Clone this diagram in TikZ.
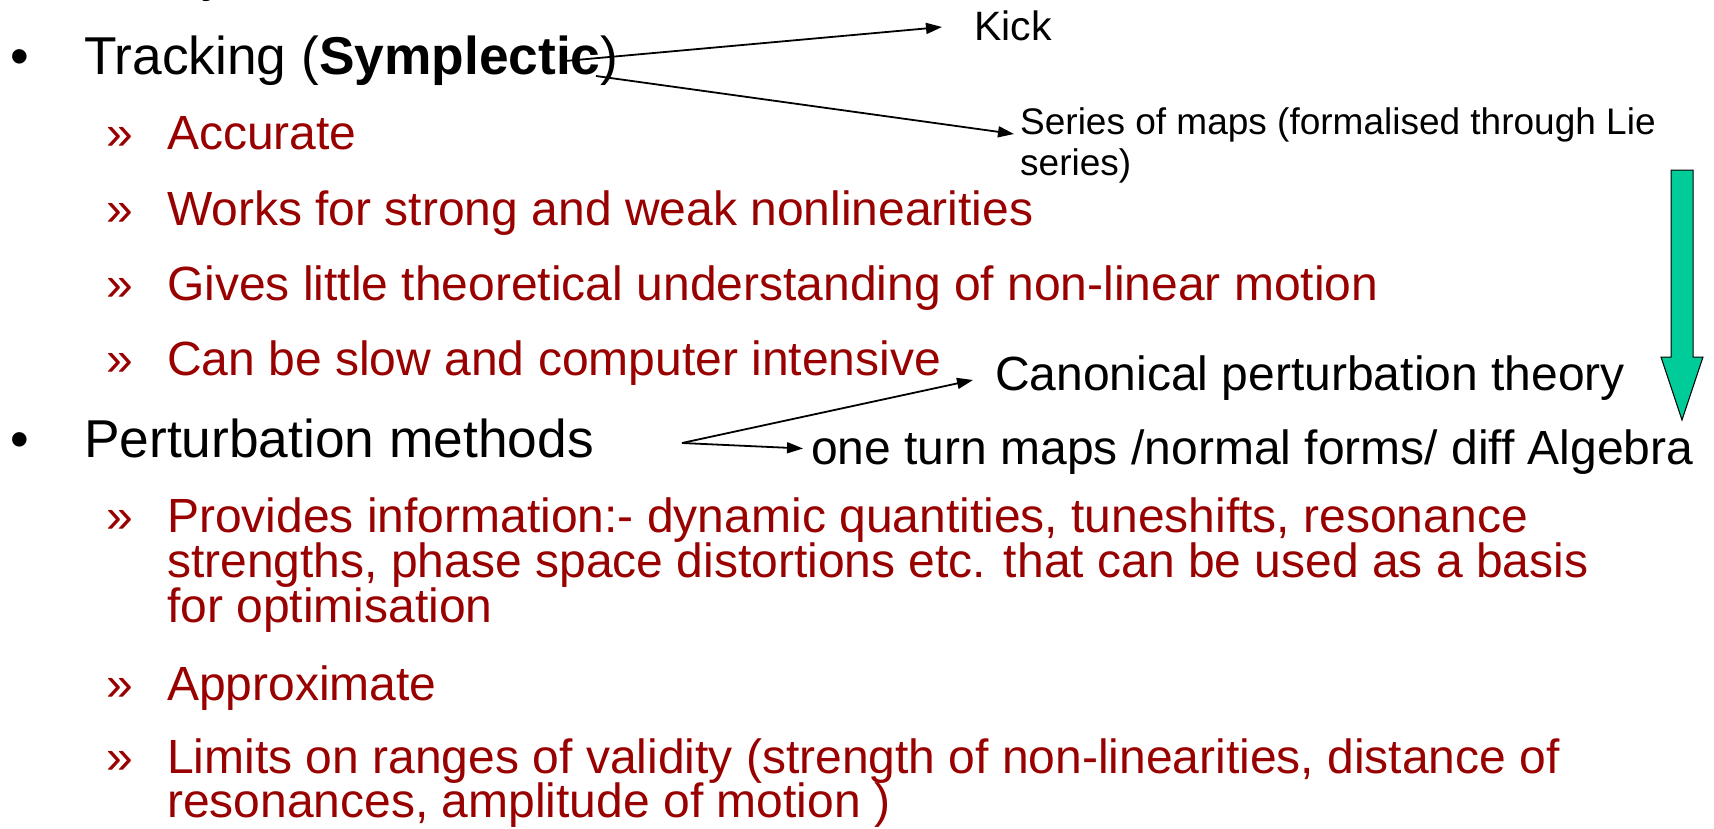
\documentclass[tikz,border=0pt]{standalone}
\usepackage{fontspec}
\setmainfont{Liberation Sans}
\usetikzlibrary{arrows.meta}
\definecolor{darkred}{RGB}{153,0,0}
\definecolor{tealgreen}{RGB}{0,204,153}
\begin{document}
\begin{tikzpicture}[x=1pt,y=-1pt,
  every node/.style={inner sep=0pt, anchor=base west},
  maintext/.style={font=\fontsize{53.3}{54}\selectfont, text=black},
  subtext/.style={font=\fontsize{48}{46}\selectfont, text=darkred},
  labelA/.style={font=\fontsize{41}{41}\selectfont, text=black},
  labelB/.style={font=\fontsize{37}{41}\selectfont, text=black},
  labelC/.style={font=\fontsize{48}{48}\selectfont, text=black},
  arr/.style={line width=1.8pt, -{Triangle[length=16pt,width=11pt]}},
  bigarrow/.style={line width=1pt, draw=black, fill=tealgreen},
]
\useasboundingbox (0,0) rectangle (1714,828);
\clip (0,0) rectangle (1714,828);

% cut-off line at the very top
\node[maintext] (topcut) at (201,-9.5) {y};

% Tracking
\node[maintext] (b1) at (10.5,74) {•};
\node[maintext] (track) at (84,74) {Tracking (\textbf{Symplectic})};
\node[subtext] (r1) at (106,149.5) {»};
\node[subtext] (t1) at (167,149.5) {Accurate};
\node[subtext] (r2) at (106,225.5) {»};
\node[subtext] (t2) at (167,225.5) {Works for strong and weak nonlinearities};
\node[subtext] (r3) at (106,300) {»};
\node[subtext] (t3) at (167,300) {Gives little theoretical understanding of non-linear motion};
\node[subtext] (r4) at (106,375) {»};
\node[subtext] (t4) at (167,375) {Can be slow and computer intensive};

% Perturbation methods
\node[maintext] (b2) at (10.5,457) {•};
\node[maintext] (pert) at (84,457) {Perturbation methods};
\node[subtext] (r5) at (106,532) {»};
\node[subtext] (t5a) at (167,532) {Provides information:- dynamic quantities, tuneshifts, resonance};
\node[subtext] (t5b) at (167,577) {strengths, phase space distortions etc. that can be used as a basis};
\node[subtext] (t5c) at (167,622) {for optimisation};
\node[subtext] (r6) at (106,700) {»};
\node[subtext] (t6) at (167,700) {Approximate};
\node[subtext] (r7) at (106,773) {»};
\node[subtext] (t7a) at (167,773) {Limits on ranges of validity (strength of non-linearities, distance of};
\node[subtext] (t7b) at (167,817) {resonances, amplitude of motion )};

% labels on the right
\node[labelA] (kick) at (974,40) {Kick};
\node[labelB] (ser1) at (1020,134) {Series of maps (formalised through Lie};
\node[labelB] (ser2) at (1020,175) {series)};
\node[labelC] (canon) at (995,390) {Canonical perturbation theory};
\node[labelC] (oneturn) at (811,464.5) {one turn maps /normal forms/ diff Algebra};

% connectors
\coordinate (sA) at (565,61);
\coordinate (sB) at (596,76);
\coordinate (pS) at (682,443);
\draw[arr] (sA) -- ([xshift=-32pt,yshift=13pt]kick.base west);
\draw[arr] (sB) -- ([xshift=-6pt]ser1.base west);
\draw[arr] (pS) -- ([xshift=-22pt,yshift=10pt]canon.base west);
\draw[arr] (pS) -- ([xshift=-8pt,yshift=16pt]oneturn.base west);

% green down arrow
\draw[bigarrow] (1671,170) -- (1693,170) -- (1693,357) -- (1703,357) -- (1682,420) -- (1661,357) -- (1671,357) -- cycle;
\end{tikzpicture}
\end{document}
